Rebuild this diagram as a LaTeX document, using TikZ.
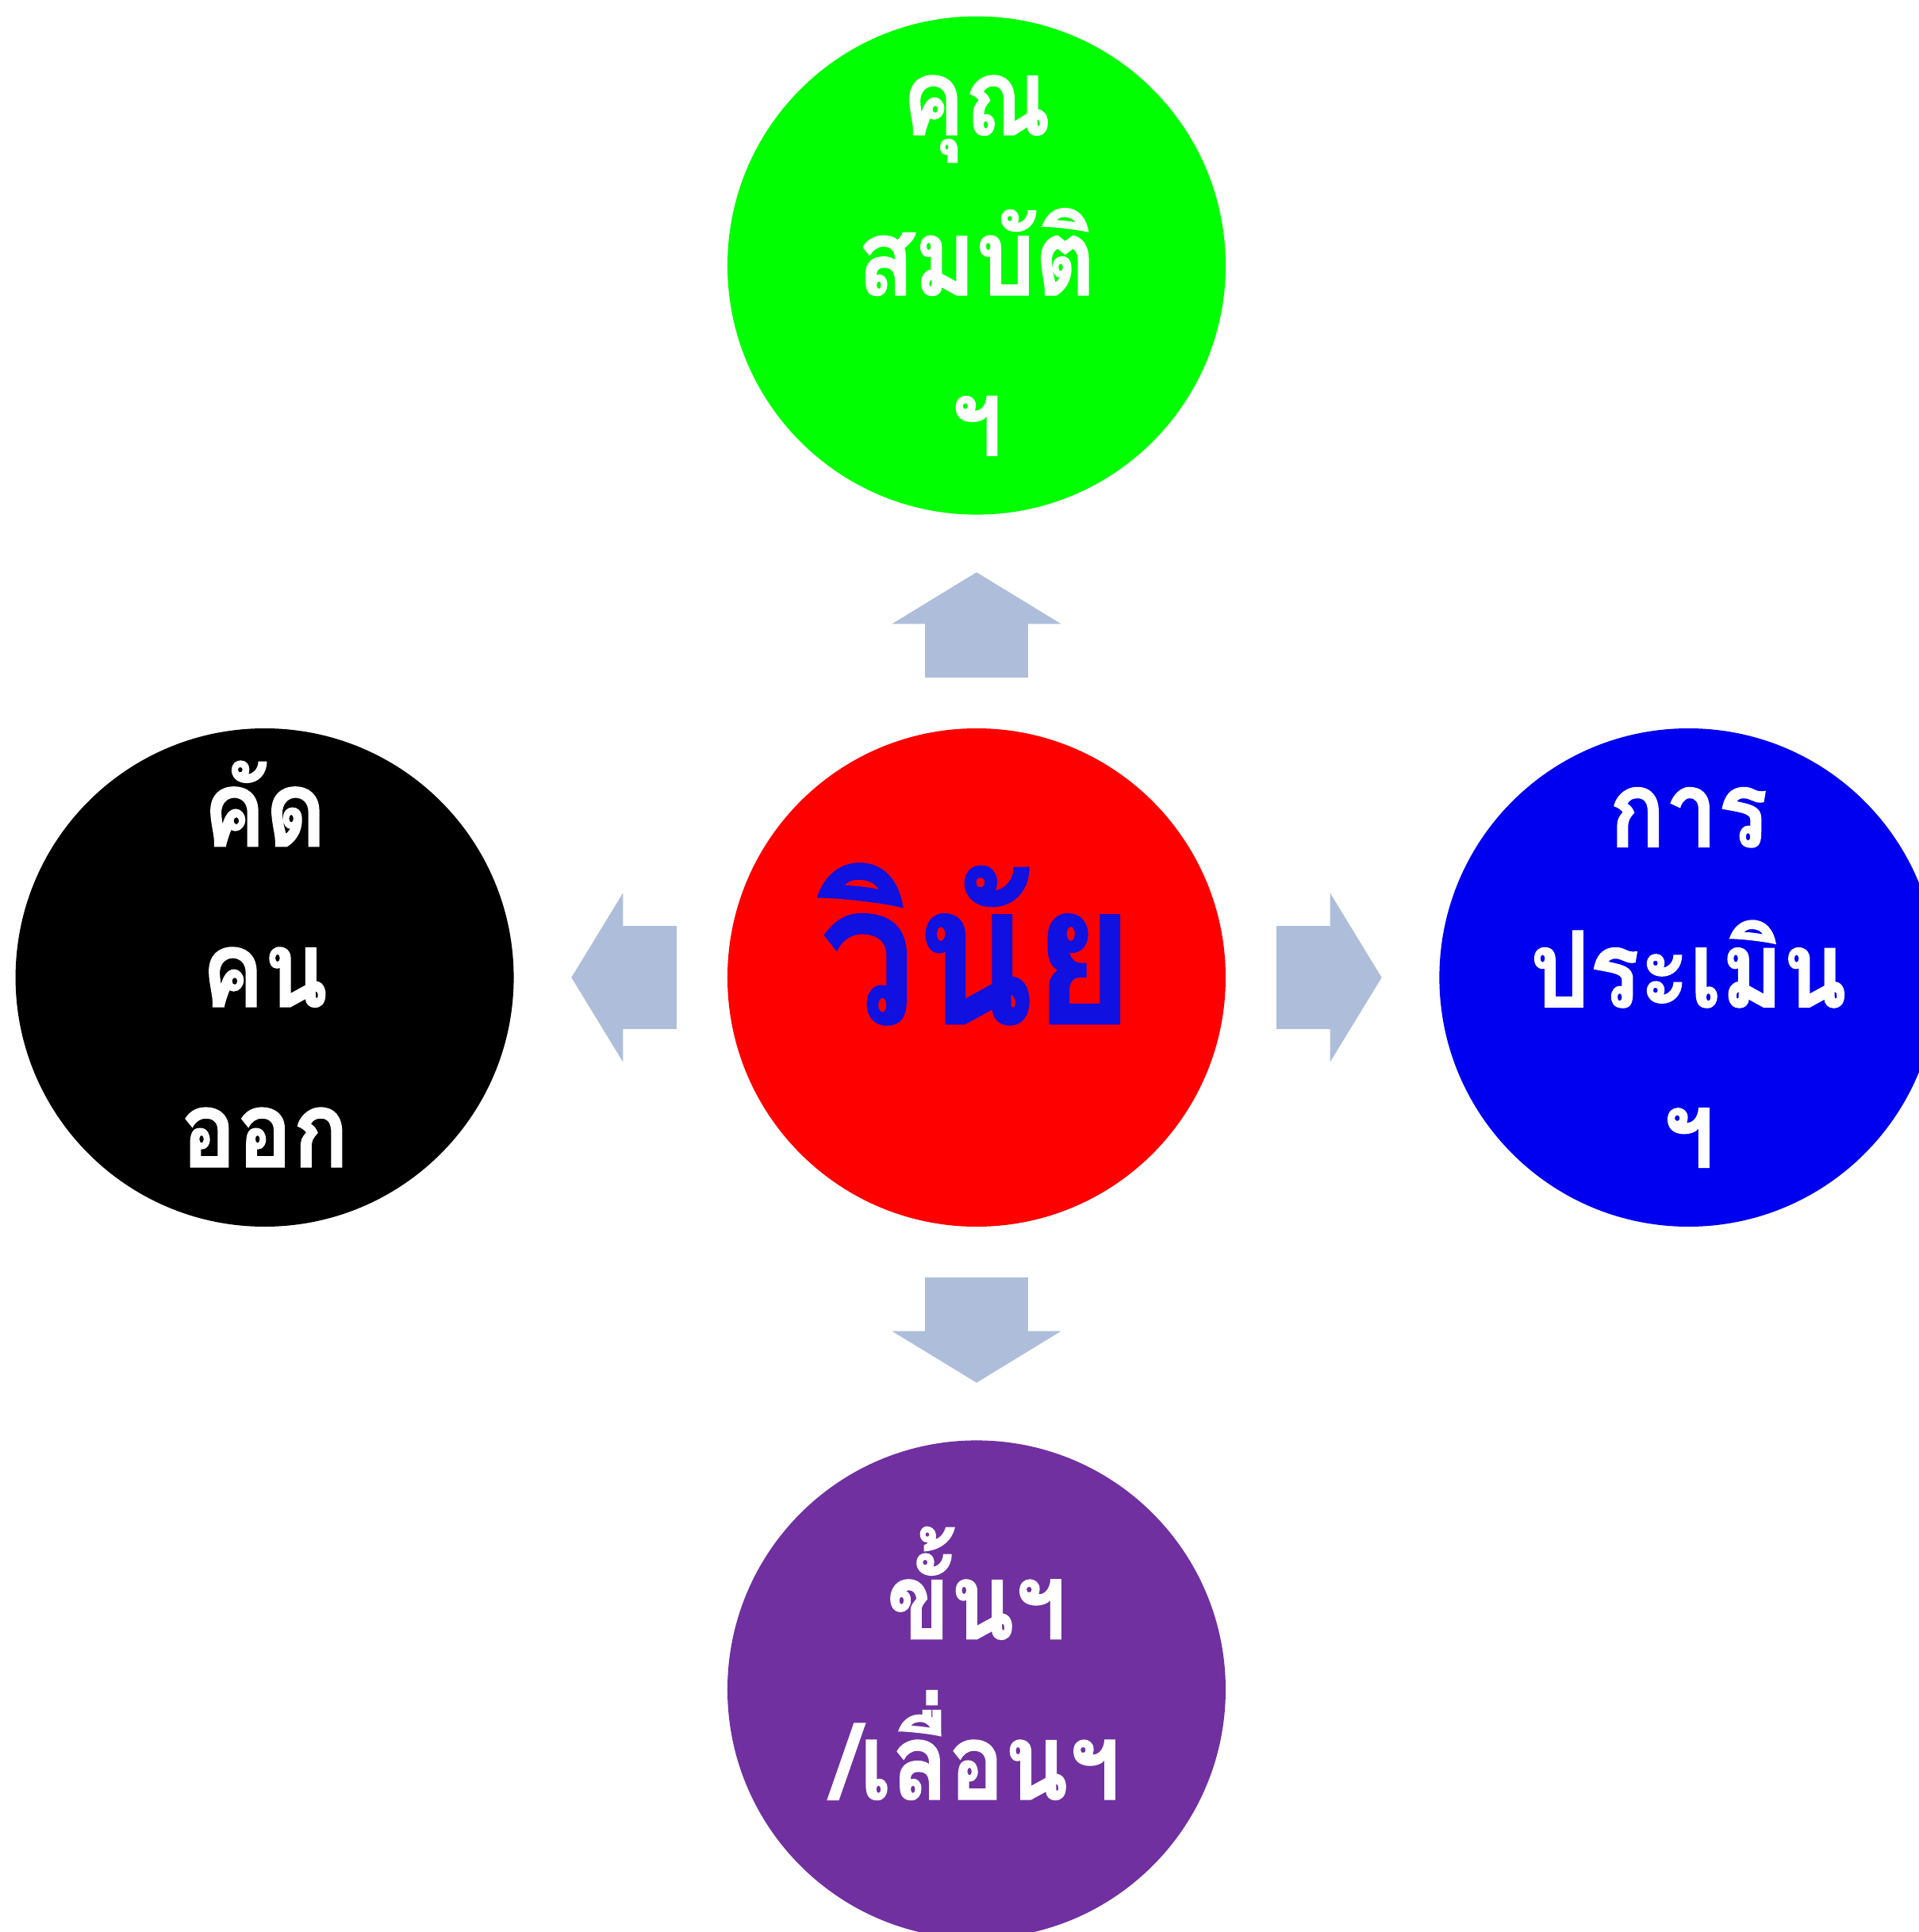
\documentclass[tikz,border=0pt]{standalone}
\usepackage{fontspec}
\newfontfamily\thaifont[Script=Thai,FakeStretch=0.88,BoldFeatures={FakeBold=1}]{Loma}
\usetikzlibrary{positioning,arrows.meta}

\definecolor{verde}{RGB}{0,255,0}
\definecolor{rosso}{RGB}{255,0,0}
\definecolor{blu}{RGB}{0,0,240}
\definecolor{viola}{RGB}{112,48,160}
\definecolor{grigioblu}{RGB}{174,190,218}
\definecolor{blutesto}{RGB}{16,16,224}

\begin{document}
\begin{tikzpicture}[
    cerchio/.style={circle, draw=none, minimum size=6.28cm, inner sep=0pt},
    testo/.style={text=white, align=center, inner sep=0pt,
      font=\thaifont\bfseries\fontsize{38}{57.5}\selectfont},
    freccia/.style={draw=grigioblu, line width=1.3cm, line cap=butt,
      -{Triangle[width=2.13cm, length=0.65cm, line width=0pt]},
      shorten <=0.63cm, shorten >=0.72cm},
    node distance=2.68cm
  ]
  % Riquadro
  \useasboundingbox (-12.31,-12.03) rectangle (11.88,12.32);
  \clip (-12.31,-12.03) rectangle (11.88,12.32);

  % Cerchio centrale
  \node[cerchio, fill=rosso] (vinai) at (0,0) {};
  \node[text=blutesto, inner sep=0pt, yshift=0.42cm,
    font=\thaifont\bfseries\fontsize{70}{80}\selectfont] (tvinai) at (vinai) {วินัย};

  % Cerchi esterni
  \node[cerchio, fill=verde, above=of vinai] (qual) {};
  \node[cerchio, fill=black, left=of vinai] (scelta) {};
  \node[cerchio, fill=blu, right=of vinai] (valut) {};
  \node[cerchio, fill=viola, below=of vinai] (promo) {};

  % Testi
  \node[testo] (tqual) at (qual) {คุณ\\สมบัติ\\ฯ};
  \node[testo, yshift=0.17cm] (tscelta) at (scelta) {คัด\\คน\\ออก};
  \node[testo] (tvalut) at (valut) {การ\\ประเมิน\\ฯ};
  \node[testo, yshift=0.33cm] (tpromo) at (promo) {ขั้นฯ\\/เลื่อนฯ};

  % Frecce
  \draw[freccia] (vinai) -- (qual);
  \draw[freccia] (vinai) -- (scelta);
  \draw[freccia] (vinai) -- (valut);
  \draw[freccia] (vinai) -- (promo);
\end{tikzpicture}
\end{document}
